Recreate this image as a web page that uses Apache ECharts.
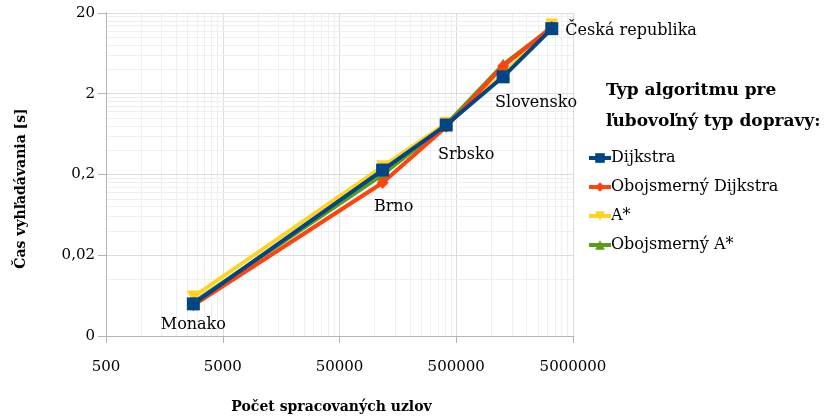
<!DOCTYPE html>
<html>
<head>
<meta charset="utf-8">
<script src="https://cdn.jsdelivr.net/npm/echarts@6/dist/echarts.min.js"></script>
<style>
  html, body { margin: 0; padding: 0; background: #fff; }
  #chart { width: 826px; height: 417px; }
</style>
</head>
<body>
<div id="chart"></div>
<script>
// data
var mapNames = ['Monako', 'Brno', 'Srbsko', 'Slovensko', 'Česká republika'];
var processedNodes = [2800, 117000, 410000, 1260000, 3290000];
var dijkstra = [0.005, 0.227, 0.82, 3.24, 12.8];
var biDijkstra = [0.0048, 0.158, 0.78, 4.4, 13.4];
var aStar = [0.0061, 0.25, 0.86, 3.4, 14.2];
var biAStar = [0.0052, 0.2, 0.83, 4.6, 13.2];

var xTicks = [500, 5000, 50000, 500000, 5000000];
var xTickLabels = ['500', '5000', '50000', '500000', '5000000'];
var yTicks = [0.002, 0.02, 0.2, 2, 20];
var yTickLabels = ['0', '0,02', '0,2', '2', '20'];

var FONT = 'DejaVu Serif';

function pairs(ys) {
  return ys.map(function (y, i) { return [processedNodes[i], y]; });
}

// where the place names sit relative to the Dijkstra markers
var labelCfg = [
  { position: 'inside', offset: [0, 21] },
  { position: 'inside', offset: [11, 37] },
  { position: 'inside', offset: [20, 30] },
  { position: 'inside', offset: [33, 26] },
  { position: 'right', distance: 7, offset: [0, 2] }
];

var dijkstraData = pairs(dijkstra).map(function (p, i) {
  var l = labelCfg[i];
  return {
    value: p,
    label: {
      show: true,
      formatter: mapNames[i],
      position: l.position,
      distance: l.distance || 0,
      offset: l.offset,
      color: '#000',
      fontFamily: FONT,
      fontSize: 16
    }
  };
});

// grid lines (major at tick values, minor at 2..9 within each decade)
var gridLines = [];
xTicks.forEach(function (b, i) {
  gridLines.push({ xAxis: b, lineStyle: { color: '#dcdcdc' } });
  if (i < xTicks.length - 1) {
    for (var k = 2; k <= 9; k++) gridLines.push({ xAxis: b * k, lineStyle: { color: '#efefef' } });
  }
});
yTicks.forEach(function (b, i) {
  gridLines.push({ yAxis: b, lineStyle: { color: '#dcdcdc' } });
  if (i < yTicks.length - 1) {
    for (var k = 2; k <= 9; k++) gridLines.push({ yAxis: +(b * k).toPrecision(6), lineStyle: { color: '#efefef' } });
  }
});

var myChart = echarts.init(document.getElementById('chart'));

var option = {
  animation: false,
  backgroundColor: '#fff',
  title: {
    text: 'Typ algoritmu pre\nľubovoľný typ dopravy:',
    left: 601,
    top: 70,
    textStyle: { fontFamily: FONT, fontWeight: 'bold', fontSize: 17, lineHeight: 31, color: '#000' }
  },
  legend: {
    orient: 'vertical',
    left: 582,
    top: 145,
    itemWidth: 22,
    itemHeight: 12,
    itemGap: 13,
    lineStyle: { width: 4 },
    textStyle: { fontFamily: FONT, fontSize: 16, color: '#000', padding: [0, 0, 0, -5] },
    data: ['Dijkstra', 'Obojsmerný Dijkstra', 'A*', 'Obojsmerný A*']
  },
  grid: { left: 106, right: 253, top: 13, bottom: 81, containLabel: false, outerBoundsMode: 'none' },
  xAxis: {
    type: 'log',
    logBase: 10,
    min: 500,
    max: 5000000,
    name: 'Počet spracovaných uzlov',
    nameLocation: 'middle',
    nameGap: 64,
    nameTextStyle: { fontFamily: FONT, fontWeight: 'bold', fontSize: 14, color: '#000', padding: [0, 16, 0, 0] },
    axisLine: { show: true, lineStyle: { color: '#b3b3b3' } },
    axisTick: { show: true, customValues: xTicks, length: 7, lineStyle: { color: '#b3b3b3' } },
    axisLabel: {
      customValues: xTicks,
      margin: 24,
      fontFamily: FONT, fontSize: 15, color: '#000',
      formatter: function (v) { return xTickLabels[xTicks.indexOf(Math.round(v))] || ''; }
    },
    splitLine: { show: false }
  },
  yAxis: {
    type: 'log',
    logBase: 10,
    min: 0.002,
    max: 20,
    name: 'Čas vyhľadávania [s]',
    nameLocation: 'middle',
    nameGap: 78,
    nameTextStyle: { fontFamily: FONT, fontWeight: 'bold', fontSize: 14, color: '#000', padding: [0, 28, 0, 0] },
    axisLine: { show: true, lineStyle: { color: '#b3b3b3' } },
    axisTick: { show: true, customValues: yTicks, length: 8, lineStyle: { color: '#b3b3b3' } },
    axisLabel: {
      customValues: yTicks,
      margin: 11,
      fontFamily: FONT, fontSize: 15, color: '#000',
      formatter: function (v) {
        var best = 0, bd = Infinity;
        yTicks.forEach(function (t, i) {
          var d = Math.abs(Math.log10(t) - Math.log10(v));
          if (d < bd) { bd = d; best = i; }
        });
        return yTickLabels[best];
      }
    },
    splitLine: { show: false }
  },
  series: [
    {
      name: 'grid',
      type: 'line',
      data: [],
      z: 0,
      silent: true,
      markLine: {
        z: 0,
        silent: true,
        symbol: 'none',
        animation: false,
        label: { show: false },
        lineStyle: { type: 'solid', width: 1 },
        data: gridLines
      }
    },
    {
      name: 'Dijkstra',
      type: 'line',
      z: 6,
      data: dijkstraData,
      symbol: 'rect',
      symbolSize: 13,
      color: '#004586',
      lineStyle: { width: 4, color: '#004586' },
      itemStyle: { color: '#004586' }
    },
    {
      name: 'Obojsmerný Dijkstra',
      type: 'line',
      z: 5,
      data: pairs(biDijkstra),
      symbol: 'diamond',
      symbolSize: 12,
      color: '#ff420e',
      lineStyle: { width: 4, color: '#ff420e' },
      itemStyle: { color: '#ff420e' }
    },
    {
      name: 'A*',
      type: 'line',
      z: 3,
      data: pairs(aStar),
      symbol: 'triangle',
      symbolRotate: 180,
      symbolSize: 13,
      color: '#ffd320',
      lineStyle: { width: 4, color: '#ffd320' },
      itemStyle: { color: '#ffd320' }
    },
    {
      name: 'Obojsmerný A*',
      type: 'line',
      z: 4,
      data: pairs(biAStar),
      symbol: 'triangle',
      symbolSize: 12,
      color: '#579d1c',
      lineStyle: { width: 4, color: '#579d1c' },
      itemStyle: { color: '#579d1c' }
    }
  ]
};

myChart.setOption(option);
</script>
</body>
</html>
